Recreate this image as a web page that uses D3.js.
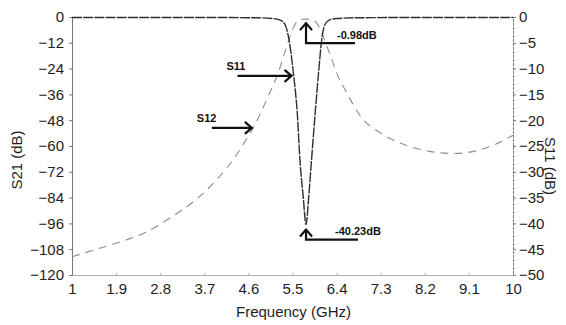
<!DOCTYPE html>
<html>
<head>
<meta charset="utf-8">
<script src="https://cdn.jsdelivr.net/npm/d3@7"></script>
<style>
  body { margin: 0; background: #fff; }
  text { font-family: "Liberation Sans", Arial, sans-serif; }
</style>
</head>
<body>
<script>
// tick labels
var freqTicks = [1, 1.9, 2.8, 3.7, 4.6, 5.5, 6.4, 7.3, 8.2, 9.1, 10];
var s21Ticks = [0, -12, -24, -36, -48, -60, -72, -84, -96, -108, -120];
var s11Ticks = [0, -5, -10, -15, -20, -25, -30, -35, -40, -45, -50];

// S12 (left axis, dB)
var s12Freq = [1, 1.5, 2, 2.5, 3, 3.5, 4, 4.3, 4.5, 4.7, 5, 5.2, 5.35, 5.45, 5.55, 5.65, 5.78, 5.9, 6.0, 6.1, 6.2, 6.3, 6.4, 6.6, 6.9, 7.3, 7.8, 8.3, 8.8, 9.2, 9.5, 10];
var s12dB = [-111.5, -108, -104.5, -100.2, -93.5, -85.5, -74.5, -66, -59, -51.5, -37, -26.5, -16, -9, -3.5, -1.3, -0.98, -1.2, -3, -7.5, -13.5, -19.5, -26, -35, -46.5, -54, -59.5, -62.5, -63.5, -62.5, -60.5, -55];

// S11 (right axis, dB)
var s11Freq = [1, 2, 3, 4, 4.8, 5.1, 5.25, 5.35, 5.43, 5.52, 5.6, 5.65, 5.72, 5.776, 5.83, 5.89, 5.96, 6.03, 6.095, 6.16, 6.25, 6.4, 6.8, 8, 10];
var s11dB = [-0.1, -0.1, -0.1, -0.1, -0.15, -0.3, -0.6, -1.5, -4.5, -11, -19, -27.5, -35, -40.23, -35, -27.5, -19, -11, -4.5, -1.5, -0.6, -0.3, -0.15, -0.1, -0.1];

var W = 566, H = 325;
var margin = {top: 17, right: 53, bottom: 50, left: 72};

var svg = d3.select('body').append('svg')
  .attr('width', W).attr('height', H);

var x = d3.scaleLinear().domain([1, 10]).range([margin.left, W - margin.right]);
var yL = d3.scaleLinear().domain([-120, 0]).range([H - margin.bottom, margin.top]);
var yR = d3.scaleLinear().domain([-50, 0]).range([H - margin.bottom, margin.top]);

// axes
var gx = svg.append('g')
  .attr('transform', 'translate(0,' + (H - margin.bottom) + ')')
  .call(d3.axisBottom(x).tickValues(freqTicks).tickSize(-2).tickPadding(8)
    .tickFormat(function(d) { return d3.format('~g')(d); }));
gx.select('.domain').attr('stroke', '#a9b4b8');
gx.selectAll('.tick line').attr('stroke', '#a9b4b8');

var gl = svg.append('g')
  .attr('transform', 'translate(' + margin.left + ',0)')
  .call(d3.axisLeft(yL).tickValues(s21Ticks).tickSize(3).tickPadding(5));
gl.select('.domain').attr('stroke', '#6f7a7c');
gl.selectAll('.tick line').attr('stroke', '#6f7a7c');

var gr = svg.append('g')
  .attr('transform', 'translate(' + (W - margin.right) + ',0)')
  .call(d3.axisRight(yR).tickValues(s11Ticks).tickSize(3).tickPadding(3));
gr.select('.domain').attr('stroke', '#6f7a7c').attr('stroke-dasharray', '3,1');
gr.selectAll('.tick line').attr('stroke', '#6f7a7c');

svg.selectAll('.tick text')
  .attr('font-size', 15)
  .attr('fill', '#1e1e1e')
  .style('font-family', '"Liberation Sans", Arial, sans-serif');

// axis titles
svg.append('text')
  .attr('x', (margin.left + W - margin.right) / 2 + 1)
  .attr('y', 317)
  .attr('text-anchor', 'middle')
  .attr('font-size', 15)
  .attr('fill', '#1e1e1e')
  .text('Frequency (GHz)');

svg.append('text')
  .attr('transform', 'translate(22,160) rotate(-90)')
  .attr('text-anchor', 'middle')
  .attr('font-size', 15)
  .attr('fill', '#1e1e1e')
  .text('S21 (dB)');

svg.append('text')
  .attr('transform', 'translate(545,166) rotate(90)')
  .attr('text-anchor', 'middle')
  .attr('font-size', 15)
  .attr('fill', '#1e1e1e')
  .text('S11 (dB)');

// curves
var s12Line = d3.line()
  .x(function(d, i) { return x(s12Freq[i]); })
  .y(function(d) { return yL(d); })
  .curve(d3.curveMonotoneX);

svg.append('path')
  .datum(s12dB)
  .attr('d', s12Line)
  .attr('fill', 'none')
  .attr('stroke', '#858f91')
  .attr('stroke-width', 1.1)
  .attr('stroke-dasharray', '8,6');

var s11Line = d3.line()
  .x(function(d, i) { return x(s11Freq[i]); })
  .y(function(d) { return yR(d); })
  .curve(d3.curveMonotoneX);

svg.append('path')
  .datum(s11dB)
  .attr('d', s11Line)
  .attr('fill', 'none')
  .attr('stroke', '#2a2f30')
  .attr('stroke-width', 1.4)
  .attr('stroke-dasharray', '10,1.2');

// annotations
function chevronRight(px, py) {
  return 'M' + (px - 7) + ',' + (py - 6) + 'L' + px + ',' + py + 'L' + (px - 7) + ',' + (py + 6);
}
function chevronUp(px, py) {
  return 'M' + (px - 6) + ',' + (py + 7) + 'L' + px + ',' + py + 'L' + (px + 6) + ',' + (py + 7);
}
var ann = svg.append('g')
  .attr('fill', 'none')
  .attr('stroke', '#111')
  .attr('stroke-width', 2.2);

// S11 arrow
var s11x = x(5.48), s11y = yR(-11.4);
ann.append('path').attr('d', 'M' + (s11x - 54) + ',' + s11y + 'L' + s11x + ',' + s11y);
ann.append('path').attr('d', chevronRight(s11x, s11y));
svg.append('text').attr('x', s11x - 65).attr('y', s11y - 6)
  .attr('font-size', 11).attr('font-weight', 'bold').attr('fill', '#111').text('S11');

// S12 arrow
var s12x = x(4.67), s12y = yL(-51.6);
ann.append('path').attr('d', 'M' + (s12x - 40) + ',' + s12y + 'L' + s12x + ',' + s12y);
ann.append('path').attr('d', chevronRight(s12x, s12y));
svg.append('text').attr('x', s12x - 55).attr('y', s12y - 6)
  .attr('font-size', 11).attr('font-weight', 'bold').attr('fill', '#111').text('S12');

// -0.98 dB marker
var px = x(5.776), py = yL(-0.98) + 4;
ann.append('path').attr('d', 'M' + px + ',' + py + 'L' + px + ',' + (py + 20) + 'L' + (px + 49) + ',' + (py + 20));
ann.append('path').attr('d', chevronUp(px, py));
svg.append('text').attr('x', px + 31).attr('y', py + 16)
  .attr('font-size', 11).attr('font-weight', 'bold').attr('fill', '#111').text('-0.98dB');

// -40.23 dB marker
var mx = x(5.776), my = yR(-40.23) + 5;
ann.append('path').attr('d', 'M' + mx + ',' + my + 'L' + mx + ',' + (my + 10) + 'L' + (mx + 52) + ',' + (my + 10));
ann.append('path').attr('d', chevronUp(mx, my));
svg.append('text').attr('x', mx + 29).attr('y', my + 5)
  .attr('font-size', 11).attr('font-weight', 'bold').attr('fill', '#111').text('-40.23dB');
</script>
</body>
</html>
